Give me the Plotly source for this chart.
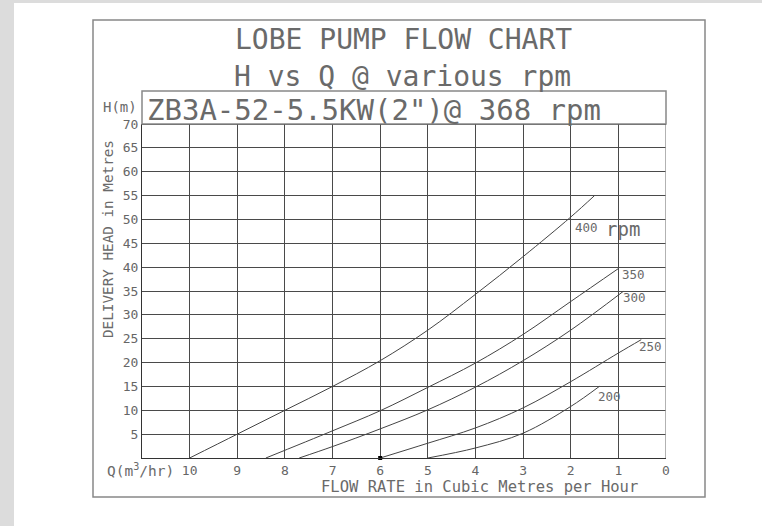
import plotly.graph_objects as go

# ---------------- data ----------------
q_ticks = [0, 1, 2, 3, 4, 5, 6, 7, 8, 9, 10]
q_tick_labels = ["0", "1", "2", "3", "4", "5", "6", "7", "8", "9", "10"]
h_ticks = [5, 10, 15, 20, 25, 30, 35, 40, 45, 50, 55, 60, 65, 70]
h_tick_labels = [str(v) for v in h_ticks]

rpm400_q = [10, 9, 8, 7, 6, 5, 4, 3, 2, 1.5]
rpm400_h = [0, 5, 10, 15, 20.4, 26.8, 34.3, 42.2, 50.5, 55]
rpm350_q = [8.4, 7, 6, 5, 4, 3, 2, 1.0]
rpm350_h = [0, 5.7, 9.9, 14.8, 19.9, 25.9, 32.8, 39.7]
rpm300_q = [7.7, 7, 6, 5, 4, 3, 2, 0.9]
rpm300_h = [0, 2.4, 6.1, 10.1, 14.85, 20.4, 26.8, 34.9]
rpm250_q = [6, 5, 4, 3, 2, 1, 0.52]
rpm250_h = [0, 3.1, 6.3, 10.5, 16, 22, 24.8]
rpm200_q = [5, 4, 3, 2, 1.4]
rpm200_h = [0, 2.1, 5.2, 10.8, 15]
dot_q = [6]
dot_h = [0]

curves = [
    (rpm400_q, rpm400_h), (rpm350_q, rpm350_h), (rpm300_q, rpm300_h),
    (rpm250_q, rpm250_h), (rpm200_q, rpm200_h),
]
curve_labels = [("400", 1.95, 48.4), ("350", 0.96, 38.4), ("300", 0.94, 33.6),
                ("250", 0.60, 23.3), ("200", 1.48, 12.8)]

# ---------------- layout helpers ----------------
W, H = 762, 526
L, R, T, B = 142, 96, 124, 68
PW, PH = W - L - R, H - T - B


def px(x):
    return (x - L) / PW


def py(y):
    return (H - B - y) / PH


FONT = "DejaVu Sans Mono"
TXT = "#6a6a6a"
GRID = "#4a4a4a"

fig = go.Figure()
for qs, hs in curves:
    fig.add_trace(go.Scatter(x=qs, y=hs, mode="lines",
                             line=dict(color="#444444", width=1, shape="spline"),
                             hoverinfo="skip", showlegend=False))
fig.add_trace(go.Scatter(x=dot_q, y=dot_h, mode="markers",
                         marker=dict(color="black", size=4, symbol="square"),
                         hoverinfo="skip", showlegend=False, cliponaxis=False))

annotations = [
    dict(text="LOBE PUMP FLOW CHART", x=px(403), y=py(39), size=28, xa="center"),
    dict(text="H vs Q @ various rpm", x=px(402), y=py(76), size=28, xa="center"),
    dict(text='ZB3A-52-5.5KW(2")@ 368 rpm', x=px(145), y=py(110), size=29, xa="left"),
    dict(text="H(m)", x=px(101), y=py(107), size=14, xa="left"),
    dict(text="Q(m<sup>3</sup>/hr)", x=px(105), y=py(470), size=14.5, xa="left"),
    dict(text="FLOW RATE in Cubic Metres per Hour", x=px(479), y=py(487), size=15.5, xa="center"),
]
ann = []
for a in annotations:
    ann.append(dict(text=a["text"], x=a["x"], y=a["y"], xref="paper", yref="paper",
                    xanchor=a["xa"], yanchor="middle", showarrow=False,
                    font=dict(family=FONT, size=a["size"], color=TXT)))
ann.append(dict(text="DELIVERY HEAD in Metres", x=px(108), y=py(239), xref="paper",
                yref="paper", textangle=-90, showarrow=False, xanchor="center",
                yanchor="middle", font=dict(family=FONT, size=14.3, color=TXT)))
for lab, qx, hy in curve_labels:
    ann.append(dict(text=lab, x=qx, y=hy, xref="x", yref="y", xanchor="left",
                    yanchor="middle", showarrow=False,
                    font=dict(family=FONT, size=12.5, color=TXT)))
ann.append(dict(text="rpm", x=1.30, y=48.0, xref="x", yref="y", xanchor="left",
                yanchor="middle", showarrow=False,
                font=dict(family=FONT, size=19, color=TXT)))

shapes = [
    dict(type="rect", xref="paper", yref="paper", x0=px(14), x1=px(770),
         y0=py(530), y1=py(3), fillcolor="white", line=dict(width=0), layer="below"),
    dict(type="rect", xref="paper", yref="paper", x0=px(93), x1=px(705),
         y0=py(497), y1=py(20), line=dict(color="#888888", width=1.5)),
    dict(type="rect", xref="paper", yref="paper", x0=0, x1=1,
         y0=1, y1=py(91), line=dict(color="#888888", width=1.5)),
    dict(type="line", xref="x", yref="paper", x0=0, x1=0, y0=0, y1=1,
         line=dict(color="#999999", width=1.5)),
    dict(type="line", xref="paper", yref="y", x0=0, x1=1, y0=70, y1=70,
         line=dict(color=GRID, width=1)),
]

fig.update_layout(
    width=W, height=H,
    margin=dict(l=L, r=R, t=T, b=B, pad=0),
    paper_bgcolor="#dcdcdc", plot_bgcolor="white",
    showlegend=False, hovermode=False,
    annotations=ann, shapes=shapes,
    xaxis=dict(range=[11, 0], tickvals=q_ticks, ticktext=q_tick_labels,
               showgrid=True, gridcolor=GRID, gridwidth=1, zeroline=False,
               showline=True, linecolor="#333333", linewidth=1, ticks="",
               tickfont=dict(family=FONT, size=13, color="#666666"),
               fixedrange=True),
    yaxis=dict(range=[0, 70], tickvals=h_ticks, ticktext=h_tick_labels,
               showgrid=True, gridcolor=GRID, gridwidth=1, zeroline=False,
               showline=True, linecolor="#333333", linewidth=1, ticks="",
               tickfont=dict(family=FONT, size=13, color="#666666"),
               fixedrange=True),
)

fig.write_html(
    "out.html",
    config={"displayModeBar": False, "staticPlot": True},
    post_script="document.body.style.margin='0px';document.body.style.overflow='hidden';",
)
